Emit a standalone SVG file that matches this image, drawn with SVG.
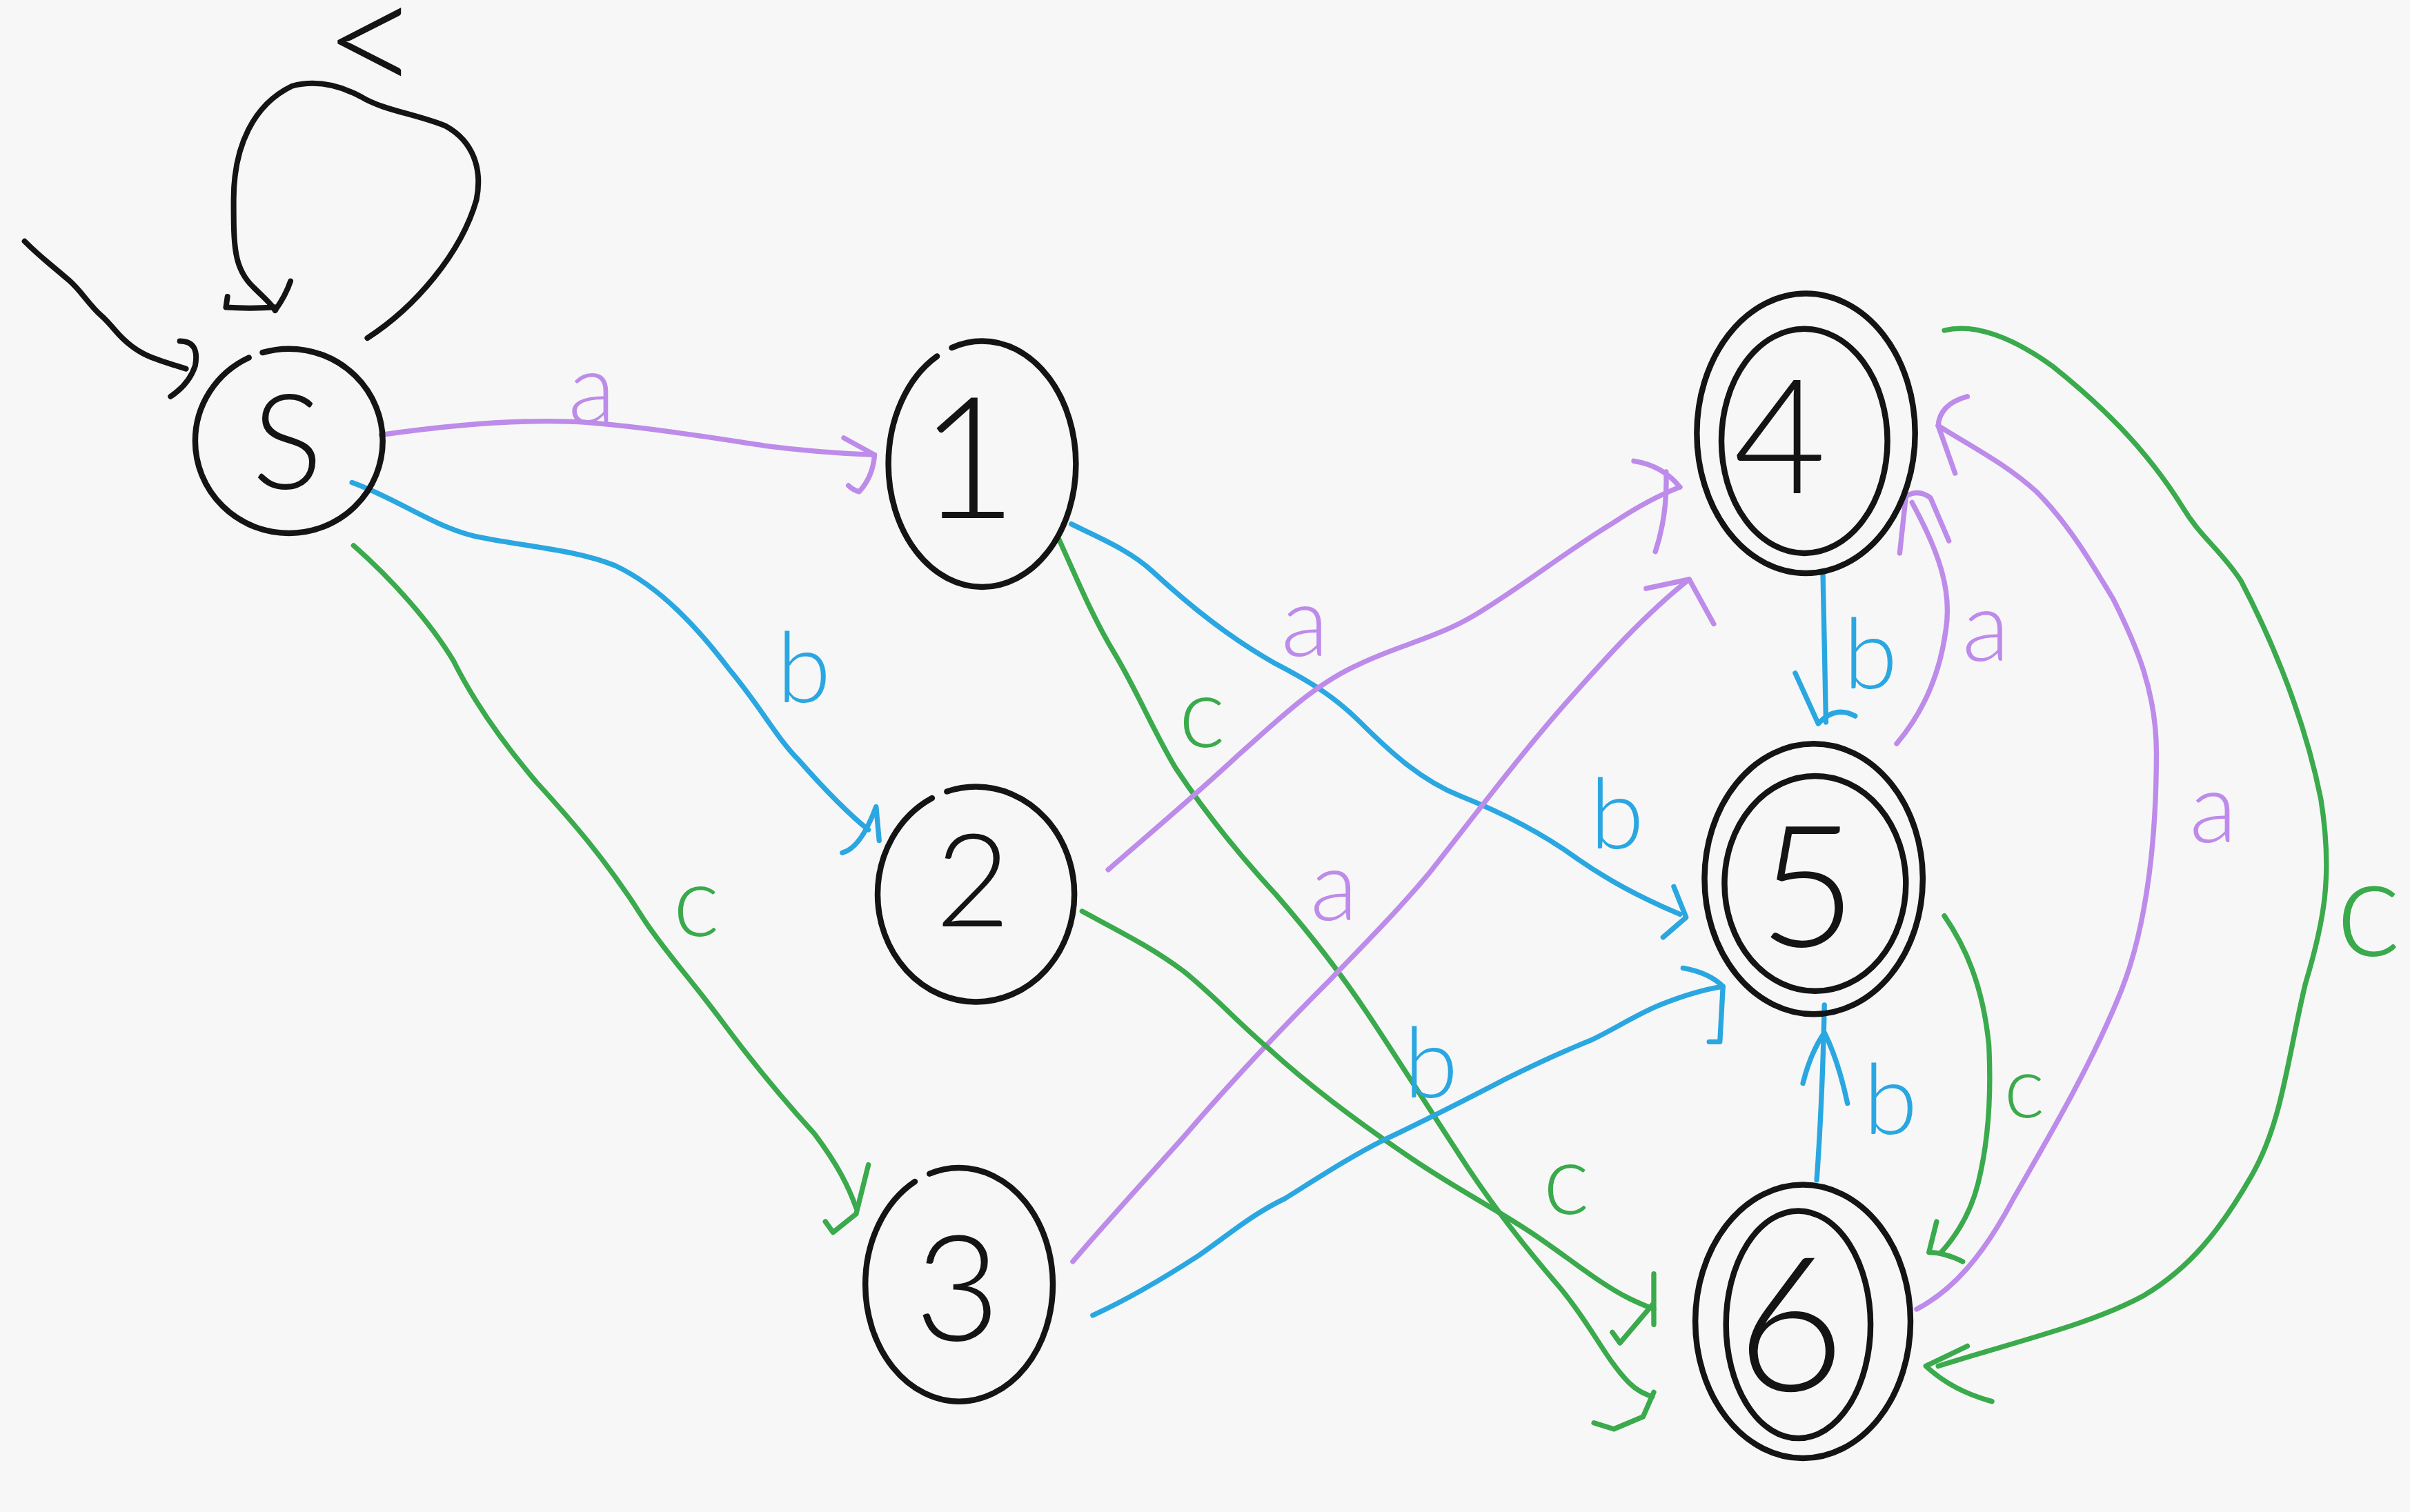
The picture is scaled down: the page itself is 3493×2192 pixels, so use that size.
<svg xmlns="http://www.w3.org/2000/svg" width="3493" height="2192" viewBox="0 0 3493 2192">
<style>
.n{fill:none;stroke:#141414;stroke-width:3.8;stroke-linecap:round;stroke-linejoin:round}
.e{fill:none;stroke-width:3.3;stroke-linecap:round;stroke-linejoin:round}
.p{stroke:#bd8bea}.bl{stroke:#2aa7e1}.g{stroke:#3aaa4c}.k{stroke:#141414;stroke-width:3.6}
.t{font-family:"Lato","Liberation Sans",sans-serif;font-weight:300;text-anchor:middle}
.tp{fill:#bd8bea}.tb{fill:#2aa7e1}.tg{fill:#3aaa4c}.tk{fill:#141414}
.gap{stroke-dasharray:68 2.5 100}
</style>
<rect width="3493" height="2192" fill="#f7f7f7"/>
<g transform="scale(2.22768)">
<g id="connectors">
  <g id="e-init">
    <path class="e k" d="M16,157 Q23,164 32,171.5 Q41,179 45,182.5 Q49,186 55.5,194 Q62,202 65.5,205 Q69,208 74.5,214.5 Q80,221 86,225.5 Q92,230 98.5,232.5 Q105,235 113,237.5 L121,240"/>
    <path class="e k" d="M117,222 Q130,222 127,238 Q123,250 111,258"/>
  </g>
  <g id="e-S-S">
    <path class="e k" d="M239,220 C270,200 300,165 310,130 C314,110 308,92 290,82 C270,74 250,72 235,63 C220,55 205,52 190,56 C165,68 152,95 152,130 C152,160 152,175 165,187 C172,194 177,198 179,202"/>
    <path class="e k" d="M148,193 L147,200 Q162,201 179,200 M189,183 Q186,192 179,202"/>
    <text class="t tk" x="242" y="64" font-size="110">&lt;</text>
  </g>
  <g id="e-S-1">
    <path class="e p" d="M248,283 C290,277 340,272 383,275 C430,279 470,286 497,290 C520,293 545,295 569,296"/>
    <path class="e p" d="M549,285 L569,296 Q568,310 559,320 Q555,319 552,316"/>
    <text class="t tp" x="385" y="275" font-size="64">a</text>
  </g>
  <g id="e-S-2">
    <path class="e bl" d="M229,314 C260,325 285,345 314,350 C345,356 375,358 400,368 C430,382 455,410 474,435 C495,460 505,480 520,495 C535,512 550,528 565,540"/>
    <path class="e bl" d="M548,555 Q560,552 570,525 L572,547"/>
    <text class="t tb" x="523" y="457" font-size="64">b</text>
  </g>
  <g id="e-S-3">
    <path class="e g" d="M230,355 C255,377 280,405 295,430 C305,450 320,475 349,509 C370,532 395,560 420,600 C435,622 450,638 470,665 C490,692 510,716 530,738 C545,758 552,772 557,786"/>
    <path class="e g" d="M565,758 L557,790 M537,795 L542,802 L557,790"/>
    <text class="t tg" x="453" y="609" font-size="64">c</text>
  </g>
  <g id="e-1-5">
    <path class="e bl" d="M697,341 C715,350 735,358 750,372 C775,395 800,415 830,432 C855,445 870,455 885,470 C905,490 925,508 950,518 C975,528 1000,540 1025,558 C1045,572 1065,583 1093,595"/>
    <path class="e bl" d="M1089,577 L1097,597 L1082,610"/>
    <text class="t tb" x="1052" y="552" font-size="64">b</text>
  </g>
  <g id="e-1-6">
    <path class="e g" d="M689,351 C700,375 710,400 725,425 C740,450 750,475 765,500 C785,530 805,555 830,582 C850,605 870,630 890,660 C910,690 930,722 955,760 C975,790 995,815 1015,838 C1035,862 1045,885 1060,900 C1065,905 1070,907 1075,909"/>
    <path class="e g" d="M1076,906 L1069,922 L1050,930 L1037,926"/>
    <text class="t tg" x="782" y="486" font-size="64">c</text>
  </g>
  <g id="e-2-4">
    <path class="e p" d="M721,566 C745,545 775,520 805,492 C830,470 855,445 885,432 C910,420 935,415 960,400 C990,382 1020,358 1050,340 C1065,330 1080,322 1093,317"/>
    <path class="e p" d="M1063,300 Q1082,303 1093,317 M1084,307 Q1085,335 1077,359"/>
    <text class="t tp" x="849" y="427" font-size="64">a</text>
  </g>
  <g id="e-3-4">
    <path class="e p" d="M698,821 C720,795 745,768 770,740 C800,705 835,668 866,637 C890,612 910,592 930,568 C960,530 990,490 1021,455 C1045,428 1070,400 1099,377"/>
    <path class="e p" d="M1071,383 L1099,377 L1115,406"/>
    <text class="t tp" x="868" y="599" font-size="64">a</text>
  </g>
  <g id="e-2-6">
    <path class="e g" d="M704,593 C730,607 750,617 770,632 C790,648 805,665 825,682 C850,705 880,728 920,755 C945,772 970,785 996,802 C1020,818 1040,835 1060,845 C1066,848 1071,850 1076,852"/>
    <path class="e g" d="M1076,829 L1076,862 M1049,867 L1054,874 L1076,848"/>
    <text class="t tg" x="1019" y="790" font-size="64">c</text>
  </g>
  <g id="e-3-5">
    <path class="e bl" d="M711,856 C735,845 760,830 780,817 C800,803 815,790 836,780 C860,765 880,752 900,742 C930,728 955,715 980,702 C1000,692 1020,683 1035,677 C1050,670 1065,660 1080,654 C1095,648 1108,644 1121,642"/>
    <path class="e bl" d="M1095,630 Q1112,633 1121,642 L1119,678 L1112,678"/>
    <text class="t tb" x="931" y="714" font-size="64">b</text>
  </g>
  <g id="e-4-5">
    <path class="e bl" d="M1186,373 L1187,420 L1188,470"/>
    <path class="e bl" d="M1168,438 L1183,471 Q1194,459 1207,466"/>
    <text class="t tb" x="1217" y="448" font-size="64">b</text>
  </g>
  <g id="e-5-4">
    <path class="e p" d="M1234,484 C1250,465 1262,440 1266,410 C1270,385 1262,360 1244,327"/>
    <path class="e p" d="M1236,360 L1240,323 Q1248,318 1256,324 L1268,352"/>
    <text class="t tp" x="1292" y="430" font-size="64">a</text>
  </g>
  <g id="e-6-4">
    <path class="e p" d="M1247,852 C1270,840 1290,818 1310,780 C1330,745 1360,695 1380,645 C1398,600 1403,540 1403,490 C1403,450 1390,420 1375,390 C1360,365 1345,340 1325,320 C1305,302 1285,292 1261,277"/>
    <path class="e p" d="M1280,258 Q1262,263 1261,277 L1272,308"/>
    <text class="t tp" x="1440" y="548" font-size="64">a</text>
  </g>
  <g id="e-4-6">
    <path class="e g" d="M1265,215 C1285,210 1310,220 1335,238 C1365,262 1395,290 1420,330 C1432,350 1445,358 1458,378 C1480,420 1500,470 1510,520 C1518,570 1512,600 1500,640 C1488,690 1485,730 1465,765 C1445,800 1425,825 1395,843 C1360,862 1315,872 1261,889"/>
    <path class="e g" d="M1280,876 L1253,889 Q1270,905 1296,912"/>
    <text class="t tg" x="1541" y="622" font-size="90">c</text>
  </g>
  <g id="e-5-6">
    <path class="e g" d="M1265,596 C1278,615 1290,640 1294,680 C1296,720 1292,750 1287,770 C1282,790 1272,805 1263,815"/>
    <path class="e g" d="M1260,795 L1255,815 Q1265,815 1277,821"/>
    <text class="t tg" x="1317" y="727" font-size="56">c</text>
  </g>
  <g id="e-6-5">
    <path class="e bl" d="M1182,768 C1184,740 1186,700 1187,654"/>
    <path class="e bl" d="M1173,705 Q1178,685 1187,672 Q1196,690 1202,718"/>
    <text class="t tb" x="1230" y="738" font-size="64">b</text>
  </g>
</g>
<g id="node-S">
  <ellipse class="n gap" pathLength="100" cx="188" cy="287" rx="61" ry="60"/>
  <text class="t tk" x="187" y="318" font-size="86">S</text>
</g>
<g id="node-1">
  <ellipse class="n gap" pathLength="100" cx="639" cy="302" rx="61" ry="80"/>
  <text class="t tk" x="630" y="337" font-size="110">1</text>
</g>
<g id="node-2">
  <ellipse class="n gap" pathLength="100" cx="635" cy="582" rx="64" ry="70"/>
  <text class="t tk" x="633" y="603" font-size="84">2</text>
</g>
<g id="node-3">
  <ellipse class="n gap" pathLength="100" cx="624" cy="836" rx="61" ry="76"/>
  <text class="t tk" x="623" y="872" font-size="96">3</text>
</g>
<g id="node-4">
  <ellipse class="n" cx="1175" cy="282" rx="71" ry="91"/>
  <ellipse class="n" cx="1174" cy="287" rx="54" ry="73"/>
  <text class="t tk" x="1158" y="321" font-size="104">4</text>
</g>
<g id="node-5">
  <ellipse class="n" cx="1180" cy="572" rx="71" ry="88"/>
  <ellipse class="n" cx="1181" cy="575" rx="59" ry="70"/>
  <text class="t tk" x="1176" y="616" font-size="110">5</text>
</g>
<g id="node-6">
  <ellipse class="n" cx="1173" cy="860" rx="70" ry="89"/>
  <ellipse class="n" cx="1170" cy="862" rx="47" ry="74"/>
  <text class="t tk" x="1165" y="905" font-size="122">6</text>
</g>
</g>
</svg>
